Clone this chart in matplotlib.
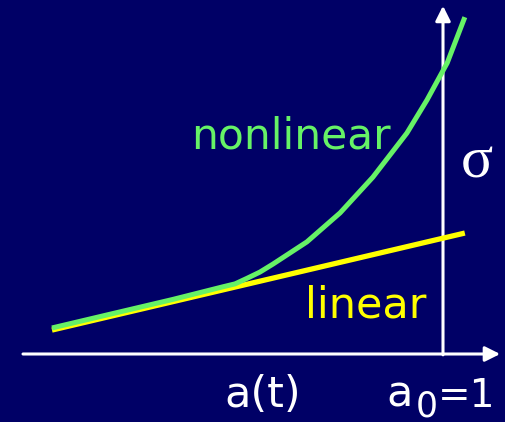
import numpy as np
import matplotlib.pyplot as plt

# Data (a in units of a0, sigma in the same scale)
a_linear = [0.069, 1.052]
s_linear = [0.057, 0.288]

a_nonlin = [0.069, 0.200, 0.357, 0.476, 0.505, 0.533, 0.564, 0.595, 0.676,
            0.755, 0.833, 0.914, 0.962, 1.010, 1.052]
s_nonlin = [0.062, 0.093, 0.130, 0.160, 0.167, 0.180, 0.195, 0.214, 0.267,
            0.336, 0.421, 0.526, 0.605, 0.693, 0.802]

bg = "#000066"
green = "#66F266"
yellow = "#FFFF00"

fig = plt.figure(figsize=(5.05, 4.22), dpi=100, facecolor=bg)
ax = fig.add_axes([0, 0, 1, 1])
ax.set_facecolor(bg)
ax.set_xlim(-23 / 420, 482 / 420)
ax.set_ylim(-68 / 420, 354 / 420)
ax.axis("off")

# axes with arrows
arrow = dict(arrowstyle="-|>,head_length=0.9,head_width=0.45",
             color="white", lw=2.2, shrinkA=0, shrinkB=0)
ax.annotate("", xy=(1.136, 0), xytext=(0, 0), arrowprops=arrow)
ax.annotate("", xy=(1.0, 0.829), xytext=(1.0, -0.002), arrowprops=arrow)

# curves
ax.plot(a_linear, s_linear, color=yellow, lw=3.8, solid_capstyle="butt", zorder=3)
ax.plot(a_nonlin, s_nonlin, color=green, lw=3.6, solid_capstyle="butt",
        solid_joinstyle="round", zorder=4)

font = "DejaVu Sans"
ax.text(0.638, 0.490, "nonlinear", color=green, fontsize=30.5, family=font,
        ha="center", va="baseline")
ax.text(0.817, 0.086, "linear", color=yellow, fontsize=31, family=font,
        ha="center", va="baseline")
ax.text(0.571, -0.126, "a(t)", color="white", fontsize=31, family=font,
        ha="center", va="baseline")
# a0 =1, subscript drawn as its own text
ax.text(0.866, -0.126, "a", color="white", fontsize=31, family=font,
        ha="left", va="baseline")
ax.text(0.934, -0.148, "0", color="white", fontsize=25, family=font,
        ha="left", va="baseline")
ax.text(1.124, -0.126, "=1", color="white", fontsize=28, family=font,
        ha="right", va="baseline")
ax.text(1.081, 0.421, "σ", color="white", fontsize=43, family="Liberation Serif",
        ha="center", va="baseline")

fig.savefig("out.png", dpi=100, facecolor=bg)
